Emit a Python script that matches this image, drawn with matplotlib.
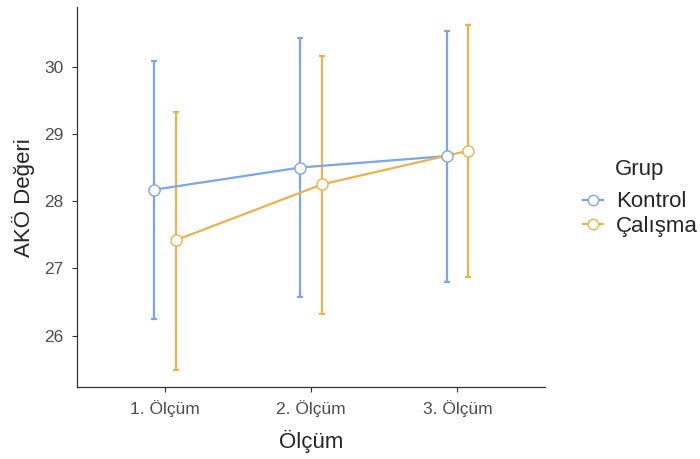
import numpy as np
import matplotlib.pyplot as plt
from matplotlib.lines import Line2D

plt.rcParams['font.family'] = ['Liberation Sans', 'DejaVu Sans']

olcumler = ['1. Ölçüm', '2. Ölçüm', '3. Ölçüm']
gruplar = ['Kontrol', 'Çalışma']
ortalama = {
    'Kontrol': [28.17, 28.50, 28.67],
    'Çalışma': [27.42, 28.25, 28.75],
}
alt = {
    'Kontrol': [26.25, 26.58, 26.80],
    'Çalışma': [25.49, 26.33, 26.88],
}
ust = {
    'Kontrol': [30.08, 30.42, 30.53],
    'Çalışma': [29.33, 30.16, 30.62],
}
renkler = {'Kontrol': '#7BA6E9', 'Çalışma': '#EBB24E'}
kayma = {'Kontrol': -0.075, 'Çalışma': 0.075}

fig = plt.figure(figsize=(7, 4.59), dpi=100)
ax = fig.add_axes([0.11, 0.157, 0.669, 0.827])

x = np.arange(1, 4)
for g in gruplar:
    m = np.array(ortalama[g])
    lo = m - np.array(alt[g])
    hi = np.array(ust[g]) - m
    xx = x + kayma[g]
    ax.errorbar(xx, m, yerr=[lo, hi], fmt='none', ecolor=renkler[g],
                elinewidth=1.6, capsize=2.5, capthick=1.6, zorder=2)
    ax.plot(xx, m, '-', color=renkler[g], lw=1.6, zorder=3)
    ax.plot(xx, m, 'o', mfc='white', mec=renkler[g], ms=8, mew=1.0, zorder=4)

ax.set_xlim(0.4, 3.6)
ax.set_ylim(25.24, 30.88)
ax.set_xticks(x)
ax.set_xticklabels(olcumler)
ax.set_yticks([26, 27, 28, 29, 30])
ax.tick_params(colors='#333333', labelcolor='#4D4D4D', labelsize=12.5,
               length=3.5, width=0.8, pad=6)
for s in ['top', 'right']:
    ax.spines[s].set_visible(False)
for s in ['left', 'bottom']:
    ax.spines[s].set_color('#333333')
    ax.spines[s].set_linewidth(0.9)
ax.set_xlabel('Ölçüm', fontsize=16, color='#262626', labelpad=9)
ax.set_ylabel('AKÖ Değeri', fontsize=16, color='#262626', labelpad=7)

handles = [Line2D([0], [0], color=renkler[g], lw=1.6, marker='o', mfc='white',
                  mec=renkler[g], ms=7.5, mew=1.0) for g in gruplar]
fig.text(615 / 700, 1 - 169 / 459, 'Grup', fontsize=16, color='#262626',
         ha='left', va='center')
fig.legend(handles, gruplar, loc='center left',
           bbox_to_anchor=(583 / 700, 1 - 214 / 459), frameon=False,
           fontsize=16, handlelength=0.9, handletextpad=0.6,
           labelspacing=0.15, borderpad=0, borderaxespad=0,
           labelcolor='#262626')

fig.savefig('out.png', dpi=100)
